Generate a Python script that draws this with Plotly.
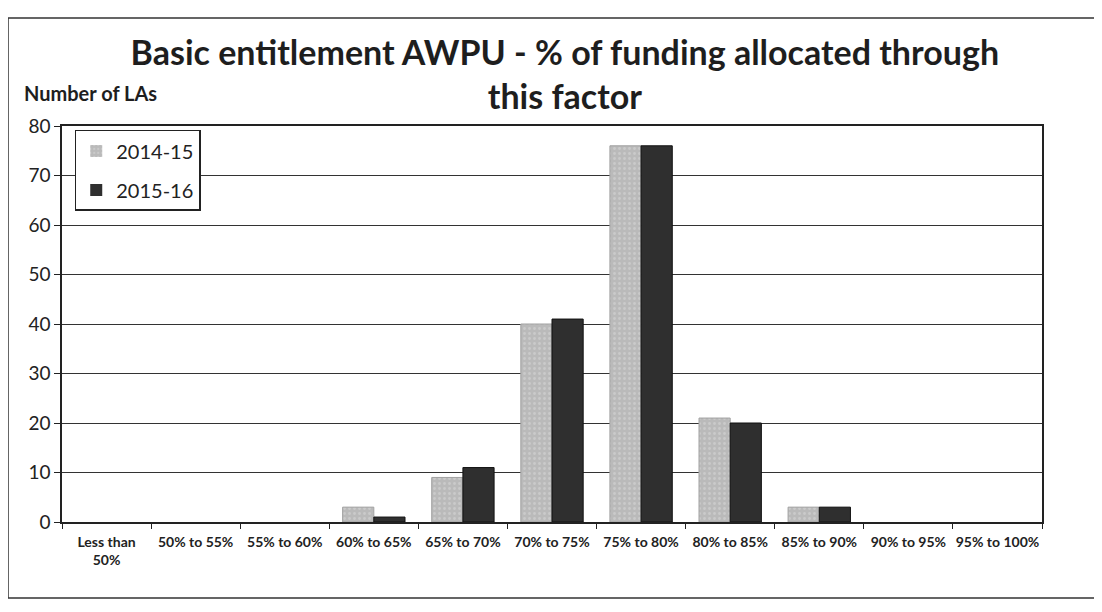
import plotly.graph_objects as go

categories = ["Less than<br>50%", "50% to 55%", "55% to 60%", "60% to 65%", "65% to 70%",
              "70% to 75%", "75% to 80%", "80% to 85%", "85% to 90%", "90% to 95%", "95% to 100%"]
values_2014_15 = [0, 0, 0, 3, 9, 40, 76, 21, 3, 0, 0]
values_2015_16 = [0, 0, 0, 1, 11, 41, 76, 20, 3, 0, 0]
y_ticks = [0, 10, 20, 30, 40, 50, 60, 70, 80]

FONT = "Lato, 'Open Sans', Arial, sans-serif"

fig = go.Figure()
fig.add_trace(go.Bar(
    name="2014-15", x=categories, y=values_2014_15, legendgroup="a",
    marker=dict(color="#bababa",
                line=dict(color="#a0a0a0", width=[1 if v else 0 for v in values_2014_15]),
                pattern=dict(shape=".", fgcolor="#dadada", size=5, solidity=0.25)),
))
fig.add_trace(go.Bar(
    name="2015-16", x=categories, y=values_2015_16, legendgroup="b",
    marker=dict(color="#2f2f2f",
                line=dict(color="#111111", width=[1 if v else 0 for v in values_2015_16])),
))

fig.update_layout(
    width=1094, height=604,
    paper_bgcolor="white", plot_bgcolor="white",
    margin=dict(l=54, r=60, t=118, b=90),
    barmode="group", bargap=0.3, bargroupgap=0.0,
    font=dict(family=FONT, color="#222222"),
    title=dict(text="<b>Basic entitlement AWPU - % of funding allocated through<br>this factor</b>",
               x=0.509, xanchor="center", y=0.906, yanchor="middle", yref="container",
               font=dict(size=34, family=FONT, color="#1e1e1e")),
    legend=dict(x=0.013, y=0.99, xanchor="left", yanchor="top",
                bordercolor="#222222", borderwidth=1.5, bgcolor="white",
                font=dict(size=20, family=FONT, color="#222222"),
                tracegroupgap=10, traceorder="grouped", itemwidth=30),
    showlegend=True,
)

fig.update_xaxes(
    showline=True, linecolor="#222222", linewidth=1.5, mirror=True,
    ticks="outside", tickson="boundaries", ticklen=5, tickcolor="#222222",
    tickangle=0, ticklabelstandoff=6,
    tickfont=dict(size=14, family=FONT, color="#222222", weight="bold"),
    showgrid=False,
)
fig.update_yaxes(
    range=[0, 80], tickvals=y_ticks, showline=True, linecolor="#222222", linewidth=1.5, mirror=True,
    ticks="outside", ticklen=6, tickcolor="#222222",
    tickfont=dict(size=19, family=FONT, color="#222222"),
    showgrid=True, gridcolor="#333333", gridwidth=1.3, zeroline=False,
)

fig.add_annotation(text="<b>Number of LAs</b>", xref="paper", yref="paper",
                   x=-0.0408, y=1.083, xanchor="left", yanchor="middle", showarrow=False,
                   font=dict(size=20, family=FONT, color="#1e1e1e"))

fig.add_shape(type="rect", xref="paper", yref="paper",
              x0=-0.0551, x1=1.054, y0=-0.192, y1=1.273,
              line=dict(color="#333333", width=1.5), layer="below")

fig.write_html("out.html")
